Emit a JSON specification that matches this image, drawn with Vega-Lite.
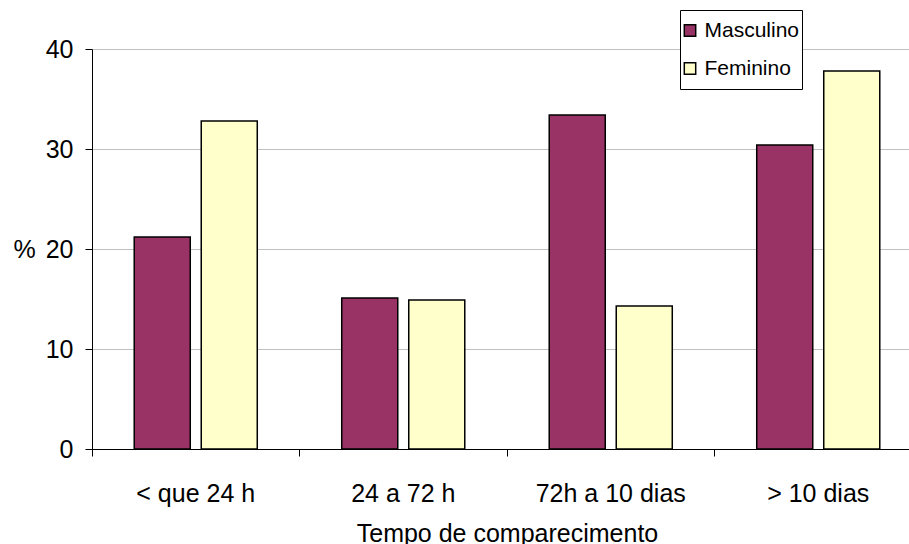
{
  "$schema": "https://vega.github.io/schema/vega-lite/v6.json",
  "width": 830,
  "height": 400,
  "autosize": {"type": "none"},
  "padding": {"left": 92, "top": 49, "right": 0, "bottom": 95},
  "background": "white",
  "config": {
    "font": "Liberation Sans",
    "view": {"stroke": null}
  },
  "data": {
    "values": [
      {"tempo": "< que 24 h", "sexo": "Masculino", "pct": 21.2},
      {"tempo": "< que 24 h", "sexo": "Feminino", "pct": 32.8},
      {"tempo": "24 a 72 h", "sexo": "Masculino", "pct": 15.1},
      {"tempo": "24 a 72 h", "sexo": "Feminino", "pct": 14.9},
      {"tempo": "72h a 10 dias", "sexo": "Masculino", "pct": 33.4},
      {"tempo": "72h a 10 dias", "sexo": "Feminino", "pct": 14.3},
      {"tempo": "> 10 dias", "sexo": "Masculino", "pct": 30.4},
      {"tempo": "> 10 dias", "sexo": "Feminino", "pct": 37.8}
    ]
  },
  "mark": {"type": "bar", "stroke": "black", "strokeWidth": 1.5},
  "encoding": {
    "x": {
      "field": "tempo",
      "type": "nominal",
      "sort": ["< que 24 h", "24 a 72 h", "72h a 10 dias", "> 10 dias"],
      "scale": {"paddingInner": 0, "paddingOuter": 0},
      "axis": {
        "title": "Tempo de comparecimento",
        "labelAngle": 0,
        "bandPosition": 0,
        "labelOffset": 0,
        "tickSize": 7,
        "labelPadding": 25,
        "labelFontSize": 25,
        "labelColor": "black",
        "titleFontSize": 25,
        "titleFontWeight": "normal",
        "titleColor": "black",
        "titleY": 92,
        "titleBaseline": "alphabetic",
        "domainColor": "black",
        "tickColor": "black",
        "grid": false
      }
    },
    "xOffset": {
      "field": "sexo",
      "type": "nominal",
      "sort": ["Masculino", "Feminino"],
      "scale": {"paddingInner": 0.164, "paddingOuter": 0.63}
    },
    "y": {
      "field": "pct",
      "type": "quantitative",
      "scale": {"domain": [0, 40]},
      "axis": {
        "values": [0, 10, 20, 30, 40],
        "title": "%",
        "titleAngle": 0,
        "titleX": -79,
        "titleY": 200,
        "titleAlign": "left",
        "titleBaseline": "middle",
        "titleFontSize": 25,
        "titleFontWeight": "normal",
        "titleColor": "black",
        "labelFontSize": 25,
        "labelColor": "black",
        "labelPadding": 12,
        "tickSize": 7,
        "tickColor": "black",
        "domainColor": "black",
        "gridColor": "#c0c0c0",
        "gridWidth": 1
      }
    },
    "color": {
      "field": "sexo",
      "type": "nominal",
      "sort": ["Masculino", "Feminino"],
      "scale": {"domain": ["Masculino", "Feminino"], "range": ["#993366", "#FFFFCC"]},
      "legend": {
        "orient": "none",
        "legendX": 588,
        "legendY": -39,
        "title": null,
        "symbolType": "square",
        "symbolSize": 130,
        "symbolStrokeColor": "black",
        "symbolStrokeWidth": 1.5,
        "symbolOpacity": 1,
        "symbolOffset": -3,
        "labelFontSize": 21,
        "labelColor": "black",
        "labelOffset": 4,
        "padding": 2.5,
        "rowPadding": 2,
        "clipHeight": 36,
        "strokeColor": "black",
        "fillColor": "white"
      }
    }
  }
}
